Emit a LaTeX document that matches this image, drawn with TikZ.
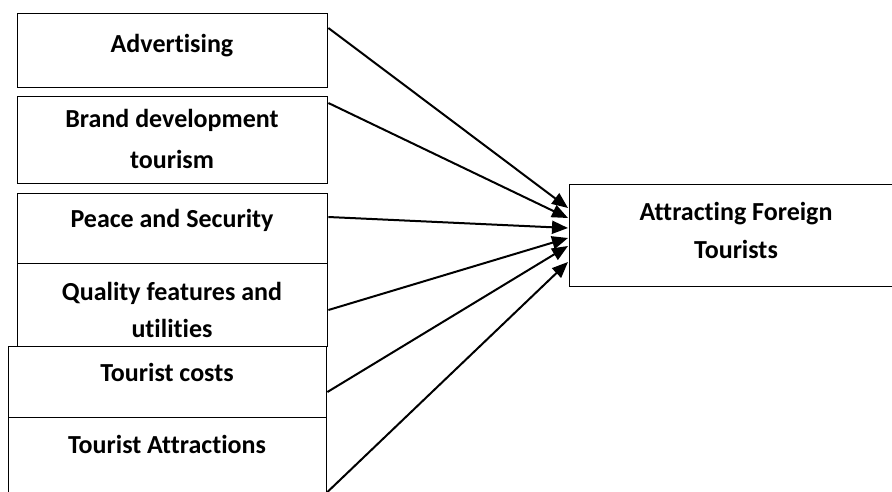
\documentclass[tikz,border=0pt]{standalone}
\usepackage{fontspec}
\setmainfont{Carlito}[Ligatures=NoCommon]
\usetikzlibrary{arrows.meta,calc}
\begin{document}
\begin{tikzpicture}[x=1pt,y=-1pt,
  box/.style={draw, line width=1.4pt, rectangle, inner sep=0pt, anchor=north west},
  lbl/.style={font=\bfseries\fontsize{26}{38}\selectfont, align=center, anchor=base, inner sep=0pt},
  arr/.style={line width=2pt, -{Triangle[length=16pt,width=13pt]}}]
\useasboundingbox (0,0) rectangle (892,491);
% boxes
\node[box, minimum width=310, minimum height=74] (adv) at (17,13) {};
\node[box, minimum width=310, minimum height=87] (brand) at (17,96) {};
\node[box, minimum width=310, minimum height=70] (peace) at (17,193) {};
\node[box, minimum width=310, minimum height=83] (quality) at (17,263) {};
\node[box, fill=white, minimum width=318, minimum height=71] (costs) at (8,346) {};
\node[box, minimum width=318, minimum height=110] (attr) at (8,417) {};
\node[box, minimum width=334, minimum height=102] (tgt) at (569,184) {};
% labels (anchor base = baseline of the last line)
\node[lbl] (advt) at (172,52) {Advertising};
\node[lbl] (brandt) at (172,168) {Brand development\\[3pt]tourism};
\node[lbl] (peacet) at (172,227) {Peace and Security};
\node[lbl] (qualt) at (172,337) {Quality features and\\[-1pt]utilities};
\node[lbl] (costt) at (167,381) {Tourist costs};
\node[lbl] (attrt) at (167,453) {Tourist Attractions};
\node[lbl] (tgtt) at (736,258) {Attracting Foreign\\Tourists};
% connector start points
\coordinate (s1) at ($(adv.north east)+(0,15)$);
\coordinate (s2) at ($(brand.north east)+(0,7)$);
\coordinate (s3) at ($(peace.north east)+(0,24)$);
\coordinate (s4) at ($(quality.north east)+(0,47)$);
\coordinate (s5) at ($(costs.north east)+(0,46)$);
\coordinate (s6) at ($(attr.north east)+(0,75)$);
% connector end points
\coordinate (e1) at ($(tgt.north west)+(-1,24)$);
\coordinate (e2) at ($(tgt.north west)+(-1,34)$);
\coordinate (e3) at ($(tgt.north west)+(-1,44)$);
\coordinate (e4) at ($(tgt.north west)+(-1,54)$);
\coordinate (e5) at ($(tgt.north west)+(-1,62)$);
\coordinate (e6) at ($(tgt.north west)+(-1,78)$);
\draw[arr] (s1) -- (e1);
\draw[arr] (s2) -- (e2);
\draw[arr] (s3) -- (e3);
\draw[arr] (s4) -- (e4);
\draw[arr] (s5) -- (e5);
\draw[arr] (s6) -- (e6);
\end{tikzpicture}
\end{document}
